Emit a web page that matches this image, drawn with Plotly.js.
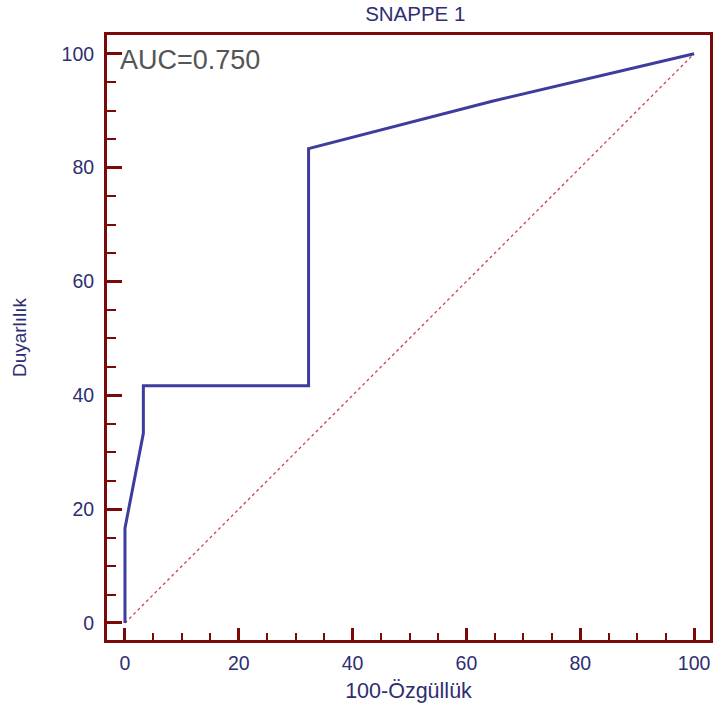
<!DOCTYPE html>
<html>
<head>
<meta charset="utf-8">
<script src="https://cdn.plot.ly/plotly-3.0.1.min.js"></script>
<style>html,body{margin:0;padding:0;background:#fff;}#chart{width:716px;height:715px;}</style>
</head>
<body>
<div id="chart"></div>
<script>
// ROC curve data (100-Specificity vs Sensitivity)
const fpr = [0, 0, 3.23, 3.23, 32.26, 32.26, 64.52, 100];
const tpr = [0, 16.67, 33.33, 41.67, 41.67, 83.33, 91.67, 100];
const diagX = [0, 100];
const diagY = [0, 100];
const titleText = "SNAPPE 1";
const xTitle = "100-Özgüllük";
const yTitle = "Duyarlılık";
const aucText = "AUC=0.750";

const navy = "#2e2e72";
const frame = "#7a0a0a";
const font = "Liberation Sans, Arial, sans-serif";

const data = [
  {x: diagX, y: diagY, mode: "lines", line: {color: "#d04040", width: 1.3, dash: "dot"}, hoverinfo: "skip"},
  {x: fpr, y: tpr, mode: "lines", line: {color: "#3d3d9e", width: 3}}
];

const axisCommon = {
  showline: true, mirror: true, linecolor: frame, linewidth: 3,
  showgrid: false, zeroline: false,
  ticks: "inside", tickcolor: frame, tickwidth: 3,
  dtick: 20, tick0: 0,
  tickfont: {family: font, size: 19.5, color: navy},
  minor: {ticks: "inside", dtick: 5, tickcolor: frame, tickwidth: 2, ticklen: 7, showgrid: false}
};

const layout = {
  width: 716, height: 715,
  margin: {l: 107, r: 6, t: 35, b: 75},
  paper_bgcolor: "#ffffff", plot_bgcolor: "#ffffff",
  showlegend: false,
  title: {text: titleText, font: {family: font, size: 20.5, color: navy}, x: 0.58, xanchor: "center", y: 0.98, yanchor: "middle"},
  xaxis: Object.assign({}, axisCommon, {
    range: [-3.16, 102.8], ticklen: 12,
    ticklabelstandoff: 4,
    title: {text: xTitle, font: {family: font, size: 21.5, color: navy}, standoff: 10}
  }),
  yaxis: Object.assign({}, axisCommon, {
    range: [-2.99, 103.3], ticklen: 15,
    ticklabelstandoff: 6,
    minor: Object.assign({}, axisCommon.minor, {ticklen: 9}),
    title: {text: yTitle, font: {family: font, size: 19, color: navy}, standoff: 30}
  }),
  annotations: [{
    text: aucText, xref: "paper", yref: "paper", x: 0.018, y: 0.987,
    xanchor: "left", yanchor: "top", showarrow: false,
    font: {family: font, size: 27, color: "#555555"}
  }]
};

Plotly.newPlot("chart", data, layout, {displayModeBar: false, staticPlot: true});
</script>
</body>
</html>
